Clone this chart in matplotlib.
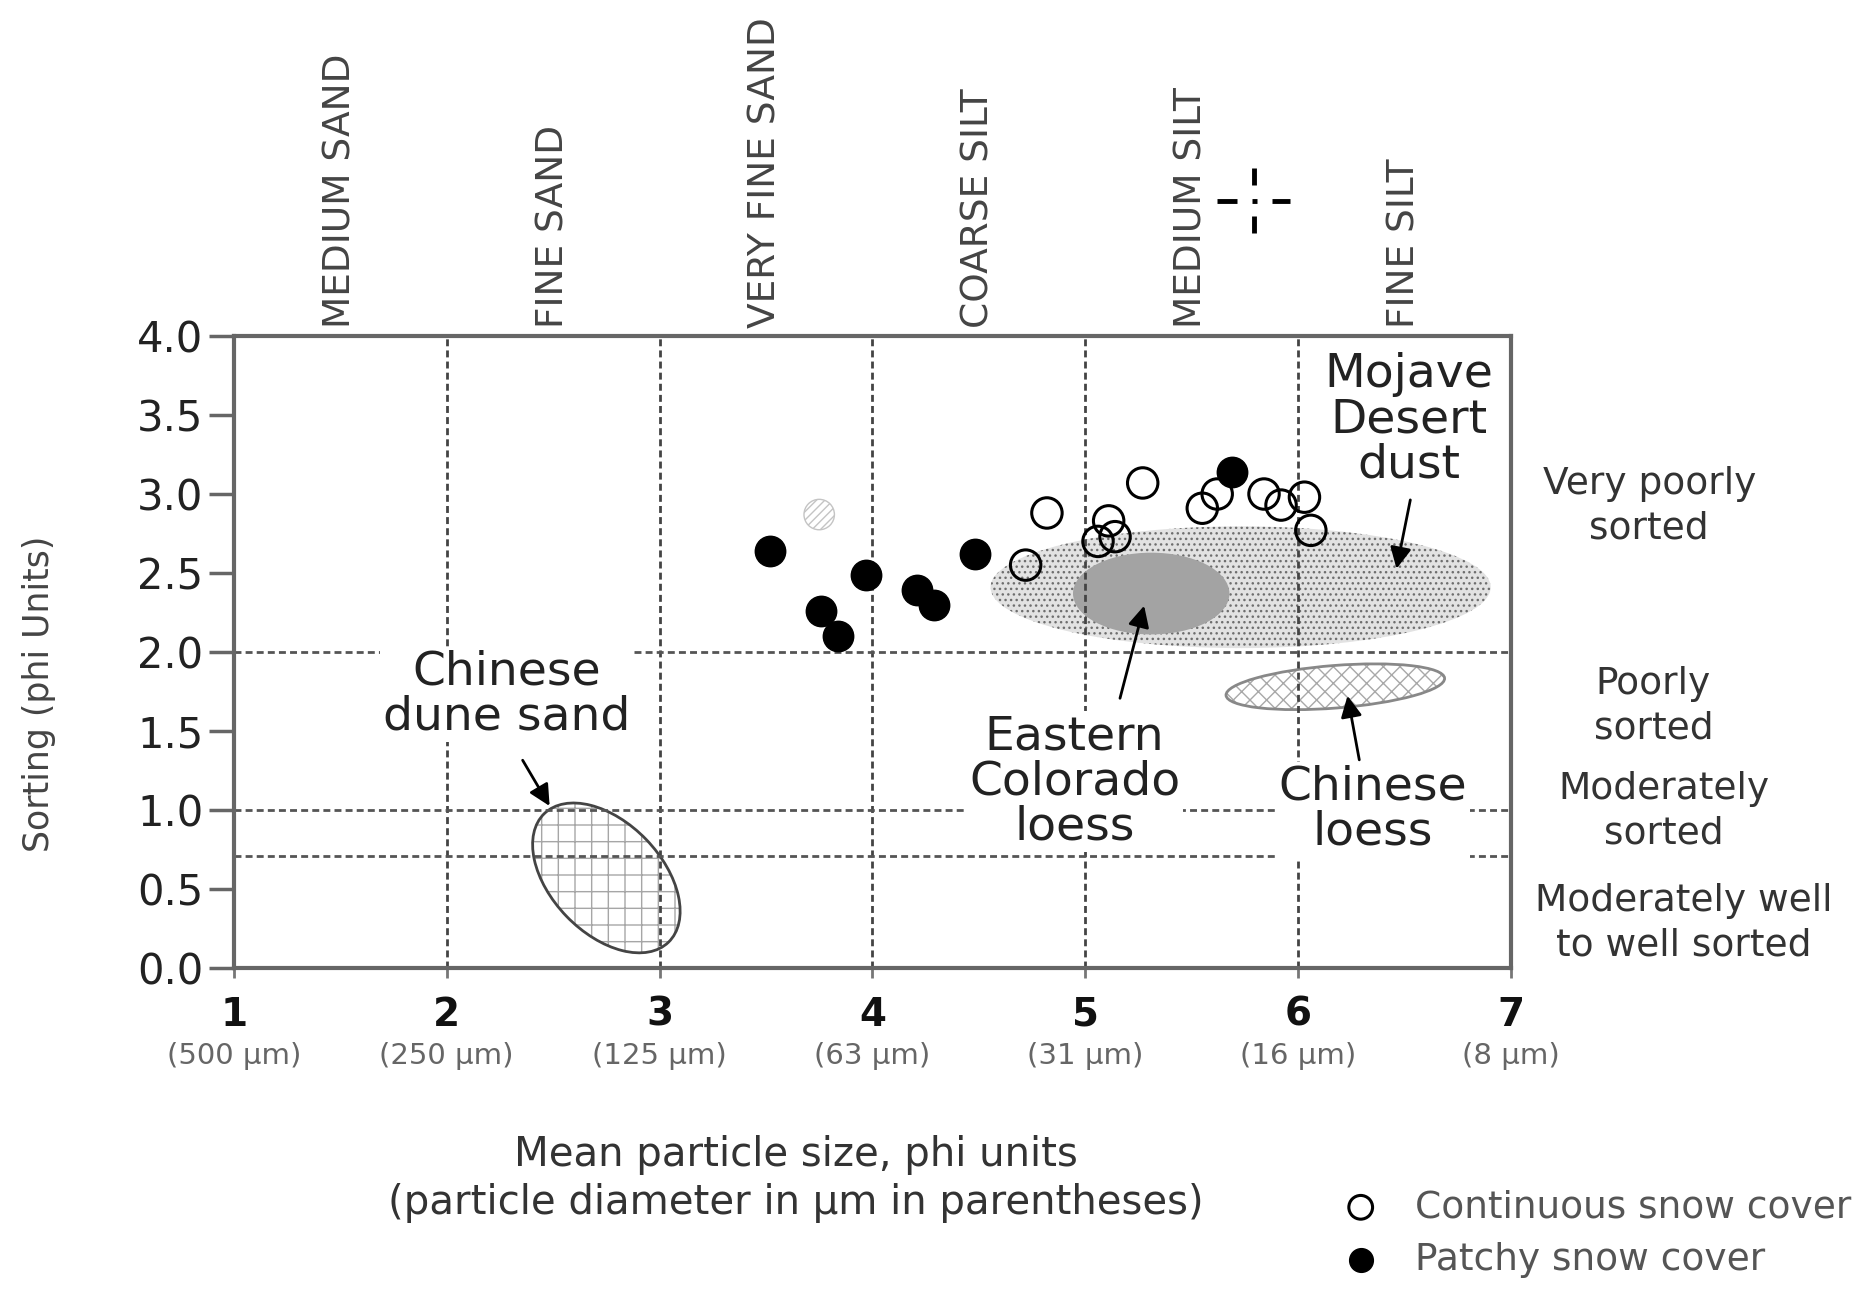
import matplotlib
matplotlib.use("Agg")
import matplotlib.pyplot as plt
from matplotlib.patches import Ellipse
from matplotlib.transforms import Affine2D
from matplotlib.lines import Line2D

plt.rcParams['font.family'] = ['DejaVu Sans']
plt.rcParams['hatch.linewidth'] = 1.0

# sample points (mean size phi, sorting phi)
continuous_x = [4.72, 4.82, 5.06, 5.11, 5.14, 5.27, 5.55, 5.62, 5.84, 5.92, 6.03, 6.06]
continuous_y = [2.55, 2.88, 2.70, 2.83, 2.73, 3.07, 2.91, 3.00, 3.00, 2.93, 2.98, 2.77]
patchy_x = [3.52, 3.76, 3.84, 3.97, 4.21, 4.29, 4.48, 5.69]
patchy_y = [2.64, 2.26, 2.10, 2.49, 2.39, 2.30, 2.62, 3.14]
faint_x = [3.75]
faint_y = [2.87]

phi_ticks = [1, 2, 3, 4, 5, 6, 7]
um_labels = ['(500 µm)', '(250 µm)', '(125 µm)', '(63 µm)', '(31 µm)', '(16 µm)', '(8 µm)']
sorting_ticks = [0.0, 0.5, 1.0, 1.5, 2.0, 2.5, 3.0, 3.5, 4.0]

size_classes = ['MEDIUM SAND', 'FINE SAND', 'VERY FINE SAND', 'COARSE SILT', 'MEDIUM SILT', 'FINE SILT']
class_x = [1.5, 2.5, 3.5, 4.5, 5.5, 6.5]
class_bounds = [2, 3, 4, 5, 6]
sorting_bounds = [2.0, 1.0, 0.71]
sorting_names = ['Very poorly\nsorted', 'Poorly\nsorted', 'Moderately\nsorted',
                 'Moderately well\nto well sorted']
sorting_name_x = [7.65, 7.67, 7.72, 7.81]
sorting_name_y = [2.92, 1.655, 0.99, 0.285]

# source regions: centre, width, height (x units), angle
region_names = ['Chinese\ndune sand', 'Eastern\nColorado\nloess', 'Chinese\nloess', 'Mojave\nDesert\ndust']
region_cx = [2.75, 5.31, 6.175, 5.73]
region_cy = [0.57, 2.37, 1.78, 2.41]
region_w = [0.84, 0.735, 1.03, 2.35]
region_h = [0.52, 0.384, 0.20, 0.572]
region_ang = [-46, 0, 4.5, 0]
label_x = [2.28, 4.95, 6.35, 6.52]
label_y = [1.73, 1.18, 1.0, 3.47]
arrow_tail = [(2.35, 1.33), (5.16, 1.69), (6.29, 1.30), (6.53, 2.98)]
arrow_head = [(2.49, 1.01), (5.28, 2.31), (6.23, 1.74), (6.46, 2.51)]

fig = plt.figure(figsize=(18.55, 13.07), dpi=100)
ax = fig.add_axes([0.1261, 0.2594, 0.6884, 0.4835])
ax.set_xlim(1, 7)
ax.set_ylim(0, 4)

# keep ellipses round in screen space
k = (0.6884 * 18.55 / 6) / (0.4835 * 13.07 / 4)


def region(i, **kw):
    e = Ellipse((0, 0), region_w[i], region_h[i], angle=region_ang[i], **kw)
    e.set_transform(Affine2D().scale(1, k).translate(region_cx[i], region_cy[i]) + ax.transData)
    ax.add_patch(e)
    return e


# Mojave dust (stipple)
region(3, facecolor='#e2e2e2', edgecolor='#6e6e6e', hatch='...', linewidth=0, zorder=1)
# Eastern Colorado loess (solid grey)
region(1, facecolor='#a3a3a3', edgecolor='none', zorder=1.2)
# Chinese loess
region(2, facecolor='white', edgecolor='#a8a8a8', hatch='xx', linewidth=0, zorder=1)
region(2, facecolor='none', edgecolor='#888888', linewidth=2, zorder=1.1)
# Chinese dune sand
region(0, facecolor='white', edgecolor='#a6a6a6', hatch='+', linewidth=0, zorder=1)
region(0, facecolor='none', edgecolor='#444444', linewidth=2, zorder=1.1)

for xv in class_bounds:
    ax.axvline(xv, color='#444444', lw=2, ls=(0, (2.5, 1.5)), zorder=2)
for yv in sorting_bounds:
    ax.axhline(yv, color='#555555', lw=2, ls=(0, (2.5, 1.5)), zorder=2)

ax.scatter(faint_x, faint_y, s=480, facecolor='none', edgecolor='#c4c4c4', hatch='////',
           linewidth=1, zorder=3)
ax.scatter(continuous_x, continuous_y, s=480, facecolor='none', edgecolor='black',
           linewidth=2.2, zorder=3, label='Continuous snow cover')
ax.scatter(patchy_x, patchy_y, s=480, color='black', zorder=3, label='Patchy snow cover')

for i, name in enumerate(region_names):
    ax.text(label_x[i], label_y[i], name, fontsize=34, color='#222222', ha='center',
            va='center', linespacing=1.0, zorder=4,
            bbox=dict(facecolor='white', edgecolor='none', pad=2))
    ax.annotate('', xy=arrow_head[i], xytext=arrow_tail[i], zorder=5,
                arrowprops=dict(arrowstyle='-|>', color='black', lw=2, mutation_scale=32))

# axes styling
for s in ax.spines.values():
    s.set_color('#666666')
    s.set_linewidth(3)
    s.set_zorder(6)
ax.set_yticks(sorting_ticks)
ax.set_yticklabels(['%.1f' % v for v in sorting_ticks], fontsize=30, color='#222222')
ax.tick_params(axis='y', length=18, width=2.5, color='#666666', pad=4)
ax.set_xticks(phi_ticks)
ax.set_xticklabels([str(v) for v in phi_ticks], fontsize=28, fontweight='bold', color='#111111')
ax.tick_params(axis='x', length=7, width=2, color='#777777', pad=13)

xt = ax.get_xaxis_transform()
for xv, lab in zip(phi_ticks, um_labels):
    ax.text(xv, -0.139, lab, transform=xt, ha='center', va='center', fontsize=21, color='#666666')
for xv, lab in zip(class_x, size_classes):
    ax.text(xv, 1.012, lab, transform=xt, ha='center', va='bottom', rotation=90,
            fontsize=27, color='#444444')
for xv, yv, lab in zip(sorting_name_x, sorting_name_y, sorting_names):
    ax.text(xv, yv, lab, ha='center', va='center', fontsize=27, color='#333333',
            linespacing=1.3, clip_on=False)

ax.text(-0.153, 0.434, 'Sorting (phi Units)', transform=ax.transAxes, rotation=90,
        ha='center', va='center', fontsize=25, color='#444444')
ax.text(0.44, -0.334, 'Mean particle size, phi units\n(particle diameter in µm in parentheses)',
        transform=ax.transAxes, ha='center', va='center', fontsize=29, color='#333333',
        linespacing=1.25)

ax.legend(loc='upper left', bbox_to_anchor=(0.8677, -0.35), frameon=False, fontsize=27,
          labelcolor='#555555', handlelength=1.0, handletextpad=0.95, borderpad=0,
          borderaxespad=0, labelspacing=0.45, markerscale=0.78)

# cursor cross left in the original image
for (x0, y0, x1, y1) in [(1217, 201, 1237, 201), (1252, 201, 1257, 201), (1272, 201, 1290, 201),
                         (1254, 168, 1254, 185), (1254, 216, 1254, 233)]:
    fig.add_artist(Line2D([x0 / 1855, x1 / 1855], [1 - y0 / 1307, 1 - y1 / 1307],
                          color='black', lw=3.5, solid_capstyle='butt'))

fig.savefig('out.png', dpi=100)
